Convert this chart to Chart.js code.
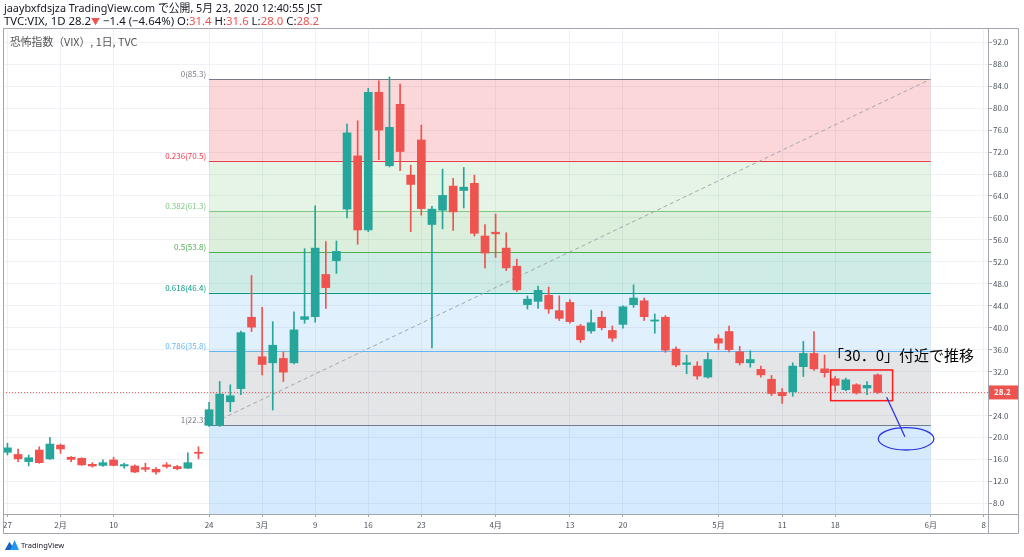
<!DOCTYPE html>
<html><head><meta charset="utf-8">
<script src="https://cdn.jsdelivr.net/npm/chart.js@4.4.1/dist/chart.umd.min.js"></script>
<style>
html,body{margin:0;padding:0;background:#fff;}
#wrap{position:relative;width:1024px;height:557px;overflow:hidden;font-family:"Noto Sans","Noto Sans CJK JP",sans-serif;background:#fff;}
canvas{position:absolute;left:0;top:0;}
.t{position:absolute;white-space:nowrap;color:#131722;line-height:13px;}
.r{color:#ef5350;}
</style></head><body>
<div id="wrap">
<canvas id="c" width="1024" height="557"></canvas>
<div class="t" style="left:4px;top:1px;font-size:10.8px;">jaaybxfdsjza TradingView.com で公開, 5月 23, 2020 12:40:55 JST</div>
<div class="t" style="left:4px;top:14px;font-size:11.4px;">TVC:VIX, 1D 28.2<span class="r" style="font-size:9px">▼</span> −1.4 (−4.64%) O:<span class="r">31.4</span> H:<span class="r">31.6</span> L:<span class="r">28.0</span> C:<span class="r">28.2</span></div>
<div class="t" style="left:10px;top:35px;font-size:10.8px;color:#555;font-family:'Noto Sans CJK JP',sans-serif;">恐怖指数（VIX）, 1日, TVC</div>
<svg style="position:absolute;left:5px;top:539px" width="14" height="12" viewBox="0 0 14 12"><path d="M0 11 L4.5 3 L7 7 L9.5 1 L14 11 Z" fill="#2196f3"/><path d="M4.5 3 L7 7 L5 11 L0 11Z" fill="#1565c0"/></svg>
<div class="t" style="left:21px;top:539px;font-size:7.5px;color:#131722;">TradingView</div>
</div>
<script>
// ---- data ----
const dates = ["2020-01-27","2020-01-28","2020-01-29","2020-01-30","2020-01-31",
"2020-02-03","2020-02-04","2020-02-05","2020-02-06","2020-02-07","2020-02-10","2020-02-11","2020-02-12","2020-02-13","2020-02-14",
"2020-02-18","2020-02-19","2020-02-20","2020-02-21","2020-02-24","2020-02-25","2020-02-26","2020-02-27","2020-02-28",
"2020-03-02","2020-03-03","2020-03-04","2020-03-05","2020-03-06","2020-03-09","2020-03-10","2020-03-11","2020-03-12","2020-03-13",
"2020-03-16","2020-03-17","2020-03-18","2020-03-19","2020-03-20","2020-03-23","2020-03-24","2020-03-25","2020-03-26","2020-03-27",
"2020-03-30","2020-03-31","2020-04-01","2020-04-02","2020-04-03","2020-04-06","2020-04-07","2020-04-08","2020-04-09",
"2020-04-13","2020-04-14","2020-04-15","2020-04-16","2020-04-17","2020-04-20","2020-04-21","2020-04-22","2020-04-23","2020-04-24",
"2020-04-27","2020-04-28","2020-04-29","2020-04-30","2020-05-01","2020-05-04","2020-05-05","2020-05-06","2020-05-07","2020-05-08",
"2020-05-11","2020-05-12","2020-05-13","2020-05-14","2020-05-15","2020-05-18","2020-05-19","2020-05-20","2020-05-21","2020-05-22"];
const openV  = [17.3,16.9,15.6,17.7,16.1,18.6,16.4,16.2,15.1,14.9,15.9,14.8,14.8,14.5,14.2,15.0,14.7,14.4,17.3,22.2,22.2,26.5,28.9,41.9,
34.7,33.6,34.4,33.6,41.5,42.0,49.7,52.2,61.6,71.3,57.8,82.9,69.5,80.7,67.8,74.2,58.8,61.4,65.8,65.0,66.3,56.7,57.4,54.5,51.2,
44.2,44.8,45.9,43.1,44.6,40.3,39.4,41.9,39.5,40.6,44.2,44.9,41.2,41.9,36.1,33.3,33.0,31.0,38.0,39.3,35.6,33.6,32.4,30.6,
28.2,28.3,32.9,35.3,32.5,30.7,28.7,29.6,29.0,31.4];
const highV  = [18.95,17.9,16.8,18.3,20.0,18.8,16.5,16.3,15.4,15.9,16.4,15.3,15.0,15.3,14.5,15.4,14.9,17.2,18.3,26.4,30.2,29.6,39.4,49.5,
43.7,41.1,35.6,42.9,54.4,62.2,55.7,55.8,77.1,77.7,83.6,85.0,85.7,84.4,69.6,76.9,62.1,68.9,67.2,69.2,67.8,58.8,60.7,57.3,52.5,
45.8,47.6,47.4,45.8,45.1,40.6,43.2,43.0,40.3,44.0,47.8,45.4,42.5,42.2,36.5,35.0,33.8,35.4,38.7,40.3,36.6,35.8,33.0,31.3,
28.9,33.6,37.5,39.3,35.0,31.1,30.8,29.8,30.2,31.6];
const lowV   = [16.8,15.6,14.8,15.3,16.0,17.1,15.6,14.9,14.6,14.7,14.8,14.4,13.6,13.8,13.3,14.4,14.1,14.3,16.1,22.0,22.0,24.7,27.8,39.3,
31.4,25.0,30.2,33.4,40.8,41.0,43.5,49.9,60.0,55.2,57.5,70.6,69.3,68.6,57.5,60.5,36.3,58.0,57.7,61.8,56.7,50.9,52.8,50.4,46.6,
43.4,43.5,42.6,41.3,40.8,37.3,39.0,39.6,37.5,39.9,43.7,41.3,39.0,35.5,32.9,31.6,30.6,30.8,36.0,35.6,33.2,32.8,31.0,27.6,
26.2,27.5,31.1,32.2,31.0,28.4,28.5,27.9,27.8,28.0];
const closeV = [18.1,16.1,16.3,15.4,18.8,17.9,16.0,15.0,14.8,15.4,14.9,15.05,13.7,14.2,13.7,14.7,14.3,15.4,17.1,25.05,27.9,27.6,39.1,40.1,
33.3,36.8,31.9,39.6,42.0,54.5,47.3,53.9,75.5,57.8,82.9,76.0,76.5,72.1,66.1,61.7,61.6,64.1,61.1,65.6,57.2,53.6,57.1,50.9,46.9,
45.2,46.8,43.4,41.7,41.1,37.8,40.9,40.0,38.1,43.8,45.4,42.0,41.4,35.9,33.2,33.6,31.2,34.2,37.2,36.0,33.6,34.2,31.4,28.0,
27.6,33.0,35.3,32.5,31.8,29.5,30.5,28.1,29.5,28.2];

// time-axis ticks (bar index) and labels
const xTickIdx    = [0,5,10,19,24,29,34,39,46,53,58,67,73,78,87,92];
const xTickLabels = ["27","2月","10","24","3月","9","16","23","4月","13","20","5月","11","18","6月","8"];
// price ticks
const yTicks = [8,12,16,20,24,28,32,36,40,44,48,52,56,60,64,68,72,76,80,84,88,92];

// Fibonacci retracement anchors
const fibStartIdx = 19, fibEndIdx = 87;
const fibLow = 22.3, fibHigh = 85.3;
const fibRatios = [0, 0.236, 0.382, 0.5, 0.618, 0.786, 1];
const fibLabels = ["0(85.3)","0.236(70.5)","0.382(61.3)","0.5(53.8)","0.618(46.4)","0.786(35.8)","1(22.3)"];
const fibExt = 1.618;

const annoText = "「30．0」付近で推移";

// ---- styles ----
const UP = '#26a69a', DOWN = '#ef5350';
const fibLineColors = ['#787b86','#f23645','#81c784','#4caf50','#089981','#64b5f6','#787b86'];
const fibFills = ['rgba(242,54,69,0.2)','rgba(129,199,132,0.2)','rgba(76,175,80,0.2)','rgba(8,153,129,0.2)','rgba(100,181,246,0.2)','rgba(120,123,134,0.2)','rgba(33,150,243,0.19)'];
const candleColors = closeV.map((c,i)=> c >= openV[i] ? UP : DOWN);
const FONT = "'Noto Sans CJK JP','Noto Sans',sans-serif";
Chart.defaults.font.family = FONT;

const lastClose = closeV[closeV.length-1];

const fibPlugin = {
  id: 'fib',
  beforeDatasetsDraw(chart){
    const {ctx, chartArea:a, scales:{x,y}} = chart;
    ctx.save();
    ctx.beginPath(); ctx.rect(a.left,a.top,a.right-a.left,a.bottom-a.top); ctx.clip();
    const x1 = x.getPixelForValue(fibStartIdx), x2 = x.getPixelForValue(fibEndIdx);
    const range = fibHigh - fibLow;
    const vals = fibRatios.map(r => fibHigh - r*range);
    const ys = vals.map(v => y.getPixelForValue(v));
    for (let k=0;k<ys.length-1;k++){
      ctx.fillStyle = fibFills[k];
      ctx.fillRect(x1, ys[k], x2-x1, ys[k+1]-ys[k]);
    }
    const yExt = Math.min(y.getPixelForValue(fibHigh - fibExt*range), a.bottom);
    ctx.fillStyle = fibFills[6];
    ctx.fillRect(x1, ys[6], x2-x1, yExt-ys[6]);
    ctx.lineWidth = 1;
    for (let k=0;k<ys.length;k++){
      ctx.strokeStyle = fibLineColors[k];
      const yy = Math.round(ys[k])+0.5;
      ctx.beginPath(); ctx.moveTo(x1,yy); ctx.lineTo(x2,yy); ctx.stroke();
      ctx.fillStyle = fibLineColors[k];
      ctx.font = "8px " + FONT;
      ctx.textAlign = 'right'; ctx.textBaseline = 'middle';
      ctx.fillText(fibLabels[k], x1-3, ys[k]-5);
    }
    // last price dotted line
    const yl = Math.round(y.getPixelForValue(lastClose))+0.5;
    ctx.strokeStyle = '#ef5350'; ctx.setLineDash([1,2]);
    ctx.beginPath(); ctx.moveTo(a.left,yl); ctx.lineTo(a.right,yl); ctx.stroke();
    ctx.setLineDash([]);
    ctx.restore();
  },
  afterDatasetsDraw(chart){
    const {ctx, chartArea:a, scales:{x,y}} = chart;
    ctx.save();
    // annotation text
    ctx.fillStyle = '#000';
    ctx.font = "15px " + FONT;
    ctx.textAlign = 'left'; ctx.textBaseline = 'middle';
    ctx.fillText(annoText, x.getPixelForValue(77.42), y.getPixelForValue(35.02));
    // red box
    const rx1 = x.getPixelForValue(77.57), rx2 = x.getPixelForValue(83.41);
    const ry1 = y.getPixelForValue(32.29), ry2 = y.getPixelForValue(26.7);
    ctx.strokeStyle = '#ff1a1a'; ctx.lineWidth = 1.5;
    ctx.strokeRect(rx1, ry1, rx2-rx1, ry2-ry1);
    // blue line & ellipse
    ctx.strokeStyle = '#2b35e6'; ctx.lineWidth = 1.3;
    ctx.beginPath();
    ctx.moveTo(x.getPixelForValue(82.85), y.getPixelForValue(27.31));
    ctx.lineTo(x.getPixelForValue(84.57), y.getPixelForValue(20.13));
    ctx.stroke();
    ctx.beginPath();
    ctx.ellipse(x.getPixelForValue(84.68), y.getPixelForValue(19.75), 27.8, 11.2, 0, 0, Math.PI*2);
    ctx.stroke();
    ctx.restore();
  },
  afterDraw(chart){
    const {ctx, chartArea:a, scales:{y}} = chart;
    ctx.save();
    ctx.strokeStyle = '#a3a6af'; ctx.lineWidth = 1;
    ctx.beginPath();
    ctx.rect(3.5, 28.5, 1015, 505);
    ctx.moveTo(3.5, a.bottom+0.5); ctx.lineTo(1018.5, a.bottom+0.5);
    ctx.moveTo(a.right+0.5, 28.5); ctx.lineTo(a.right+0.5, 533.5);
    ctx.stroke();
    // last price label
    const yl = y.getPixelForValue(lastClose);
    ctx.fillStyle = '#ef5350';
    ctx.fillRect(a.right+1, yl-7, 29, 14);
    ctx.fillStyle = '#fff';
    ctx.font = "bold 8px " + FONT;
    ctx.textAlign = 'left'; ctx.textBaseline = 'middle';
    ctx.fillText(lastClose.toFixed(1), a.right+6, yl);
    ctx.restore();
  }
};

new Chart(document.getElementById('c'), {
  type: 'bar',
  data: {
    datasets: [
      { label:'body', data: dates.map((d,i)=>({x:i, y:[openV[i], closeV[i]]})),
        backgroundColor: candleColors, borderColor: candleColors, borderWidth: 0,
        barThickness: 8, minBarLength: 1, grouped: false, order: 0 },
      { label:'wick', data: dates.map((d,i)=>({x:i, y:[lowV[i], highV[i]]})),
        backgroundColor: candleColors, borderWidth: 0,
        barThickness: 1, grouped: false, order: 1 },
      { type:'line', label:'trend', data:[{x:fibStartIdx,y:fibLow},{x:fibEndIdx,y:fibHigh}],
        borderColor:'#a3a6af', borderWidth:1, borderDash:[4,3], pointRadius:0, order: 2 }
    ]
  },
  options: {
    responsive: false, animation: false, devicePixelRatio: 1,
    layout: { padding: { left: 3, top: 30, right: 0, bottom: 0 } },
    plugins: { legend: {display:false}, tooltip: {enabled:false} },
    scales: {
      x: {
        type: 'linear', min: -0.41, max: 92.4, offset: false,
        afterFit: s => { s.height = 43; },
        afterBuildTicks: s => { s.ticks = xTickIdx.map(v => ({value:v})); },
        ticks: { autoSkip:false, maxRotation:0, padding: 3, color:'#4c525e', font:{size:8},
          callback: v => { const k = xTickIdx.indexOf(v); return k>=0 ? xTickLabels[k] : ''; } },
        grid: { color:'#eef1f6', tickColor:'#a3a6af', tickLength:3, offset:false },
        border: { display:false }
      },
      y: {
        type: 'linear', position: 'right', min: 6.05, max: 94.24,
        afterFit: s => { s.width = 36; },
        afterBuildTicks: s => { s.ticks = yTicks.map(v => ({value:v})); },
        ticks: { padding: 1, color:'#4c525e', font:{size:8}, callback: v => Number(v).toFixed(1) },
        grid: { color:'#eef1f6', tickColor:'#a3a6af', tickLength:4 },
        border: { display:false }
      }
    }
  },
  plugins: [fibPlugin]
});
</script>
</body></html>
